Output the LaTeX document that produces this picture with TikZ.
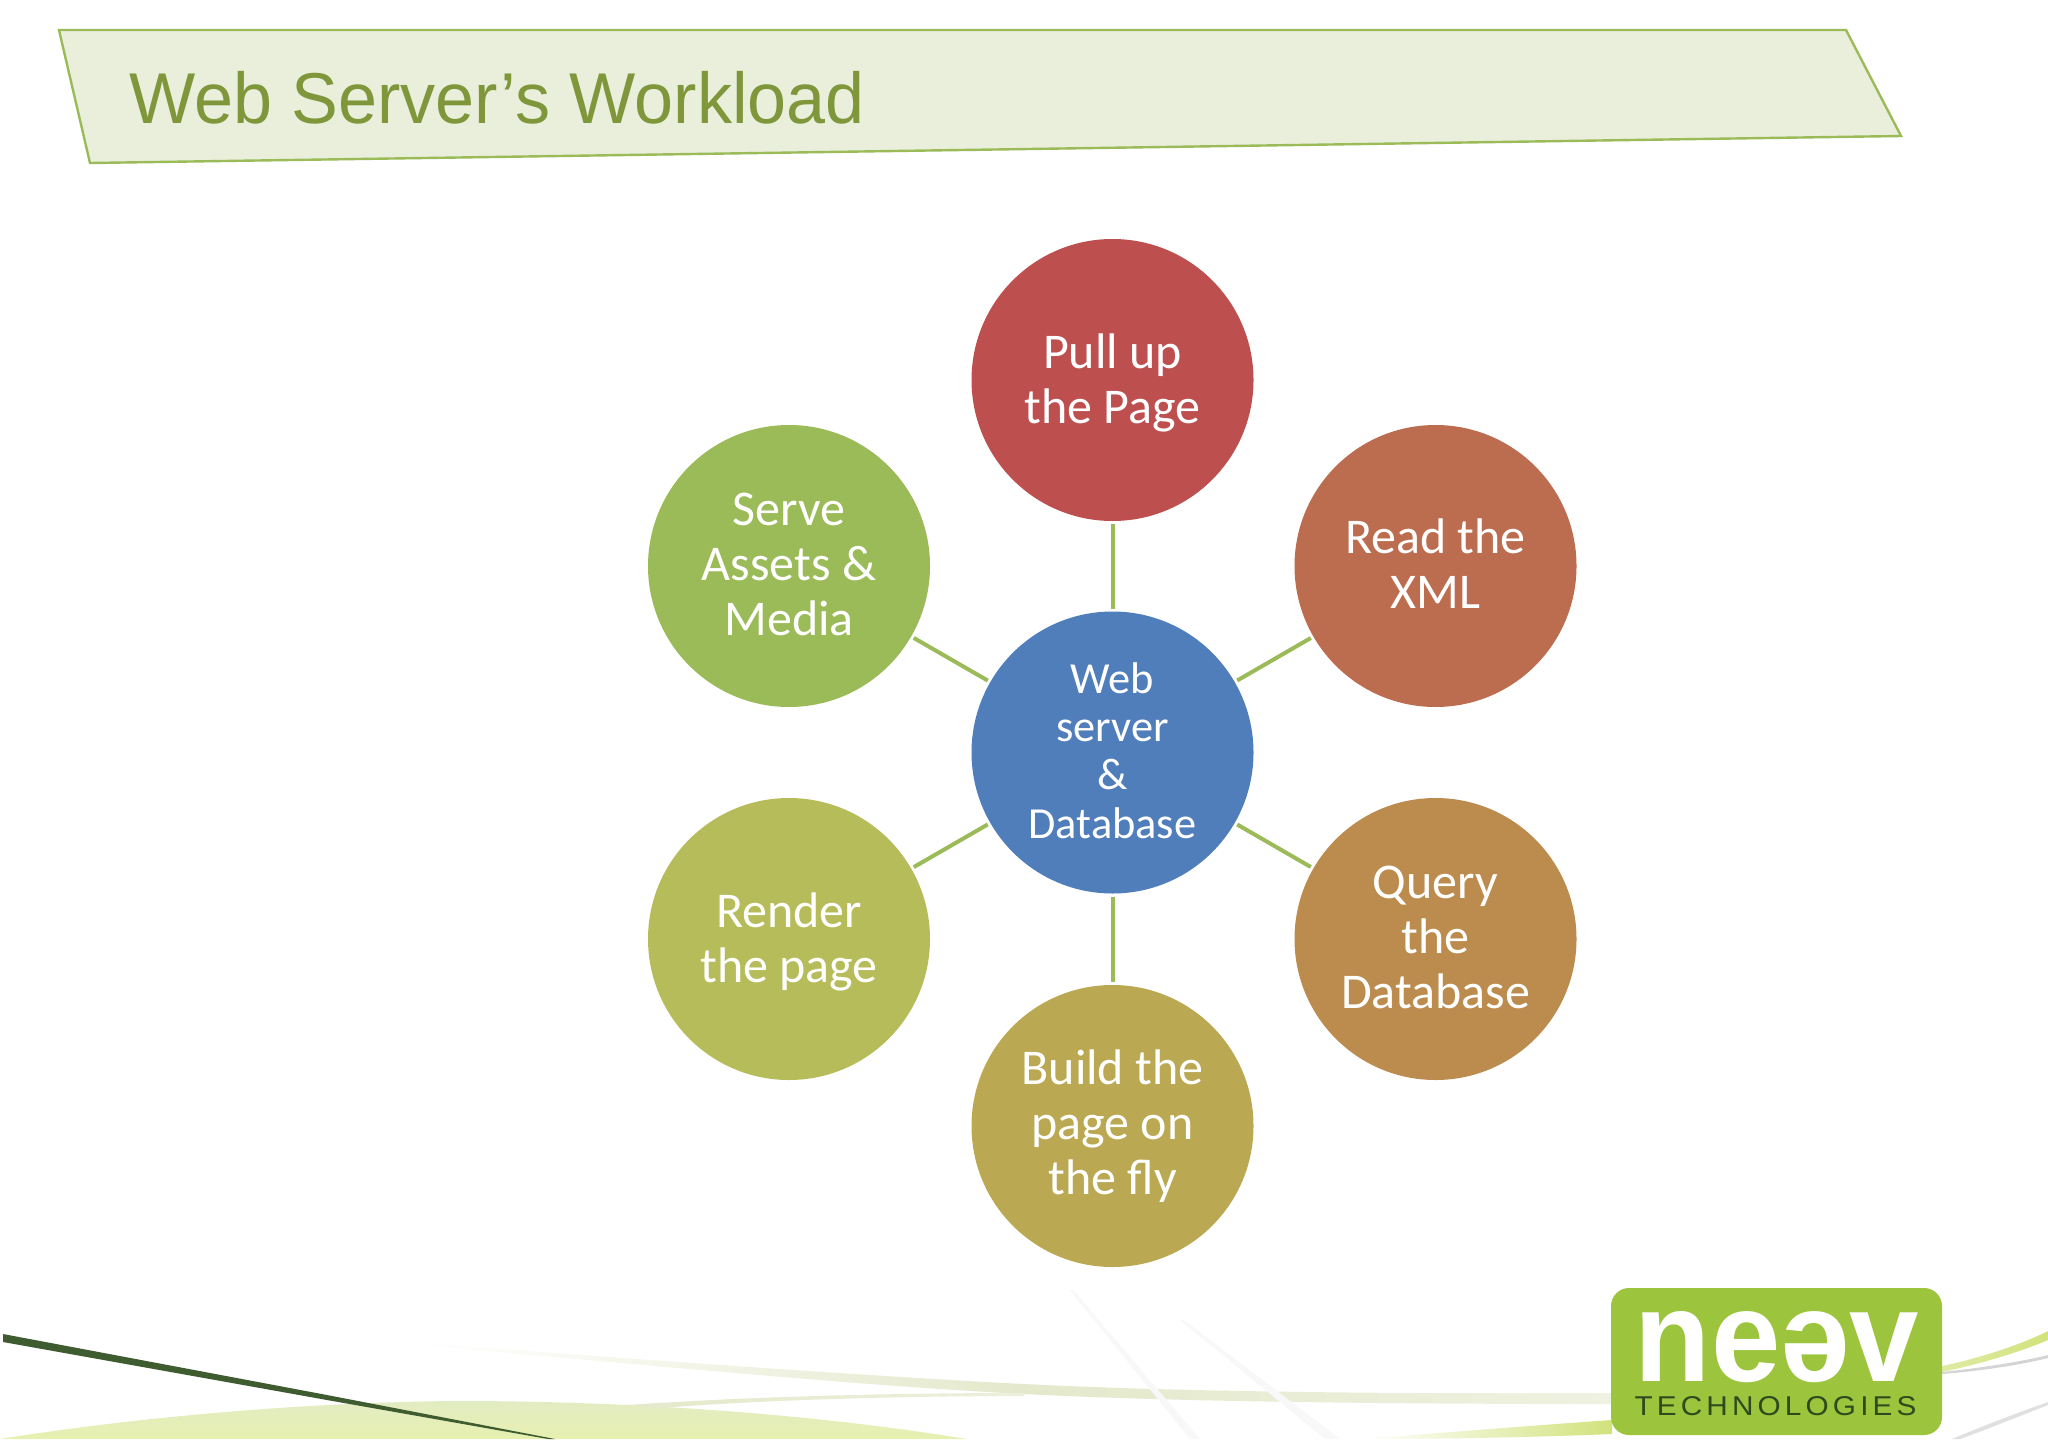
\documentclass[tikz,border=0pt]{standalone}
\usepackage{fontspec}
\usepackage{graphicx}
\setmainfont{Carlito}
\newfontfamily\titlefont{Liberation Sans}
\newfontfamily\logofont{Liberation Sans}
\newfontfamily\logospaced{Liberation Sans}[LetterSpace=14]
\definecolor{bandfill}{HTML}{EAEFDC}
\definecolor{accent}{HTML}{9BBB59}
\definecolor{titlecol}{HTML}{7F963B}
\definecolor{cCenter}{HTML}{4F7EBB}
\definecolor{cA}{HTML}{BE4F4F}
\definecolor{cB}{HTML}{BC6D4F}
\definecolor{cC}{HTML}{BC8C4F}
\definecolor{cD}{HTML}{BBA852}
\definecolor{cE}{HTML}{B6BC5A}
\definecolor{cF}{HTML}{9BBB59}
\definecolor{logogreen}{HTML}{9CC43C}
\definecolor{logodark}{HTML}{2F4A1E}
\definecolor{swoosh}{HTML}{3F5C30}
\definecolor{hilltop}{HTML}{E2ECC2}
\definecolor{hillbot}{HTML}{E7F0B0}
\definecolor{streak}{HTML}{E4E9CC}
\definecolor{ylw}{HTML}{D2E27C}
\definecolor{faint}{HTML}{F8F8F8}
\tikzset{
  bubble/.style={circle,minimum size=141pt,inner sep=0pt,outer sep=0pt},
  btext/.style={inner sep=0pt,outer sep=0pt,text=white,align=center,font=\fontsize{25}{27.5}\selectfont},
  htext/.style={btext,font=\fontsize{22.2}{24.1}\selectfont},
  link/.style={draw=accent,line width=2pt,shorten <=1.5pt,shorten >=1.5pt},
  logotxt/.style={inner sep=0pt,outer sep=0pt,anchor=center}
}
\begin{document}
\begin{tikzpicture}[x=0.5pt,y=-0.5pt]
\useasboundingbox (0,0) rectangle (2048,1439);
\fill[white] (0,0) rectangle (2048,1439);
% decorative background
\shade[top color=hilltop,bottom color=hillbot] (0,1439) .. controls (150,1415) and (320,1402) .. (457,1401) .. controls (640,1401) and (820,1415) .. (967,1439) -- cycle;
\shade[left color=white,right color=streak] (418,1343) .. controls (650,1360) and (850,1375) .. (1024,1384) -- (1024,1394) .. controls (850,1385) and (650,1365) .. (418,1345) -- cycle;
\shade[left color=streak,right color=streak!60] (1024,1384) .. controls (1180,1392) and (1400,1394) .. (1612,1393) -- (1612,1404) .. controls (1400,1404) and (1180,1402) .. (1024,1394) -- cycle;
\shade[left color=streak,right color=streak!70] (627,1405) .. controls (760,1396) and (900,1393) .. (1024,1393) -- (1024,1396) .. controls (900,1396) and (760,1400) .. (660,1408) -- cycle;
\fill[faint] (1070,1290) -- (1073,1290) -- (1200,1439) -- (1190,1439) -- cycle;
\fill[faint] (1180,1320) -- (1184,1320) -- (1340,1439) -- (1325,1439) -- cycle;
\shade[left color=white,right color=ylw] (1364,1439) .. controls (1450,1432) and (1540,1425) .. (1612,1420) -- (1612,1434) .. controls (1540,1437) and (1450,1439) .. (1364,1439) -- cycle;
\shade[left color=ylw!70,right color=ylw] (1942,1366) .. controls (1980,1358) and (2020,1345) .. (2048,1331) -- (2048,1340) .. controls (2020,1352) and (1980,1364) .. (1942,1372) -- cycle;
\fill[faint!70!gray] (1942,1372) .. controls (1980,1368) and (2020,1362) .. (2048,1355) -- (2048,1358) .. controls (2020,1365) and (1980,1371) .. (1942,1374) -- cycle;
\fill[faint!80!gray] (1952,1439) .. controls (1985,1425) and (2020,1412) .. (2048,1402) -- (2048,1405) .. controls (2020,1416) and (1985,1430) .. (1960,1439) -- cycle;
\fill[swoosh] (3,1334) -- (327,1395) -- (555,1439) -- (548,1439) -- (327,1400) -- (3,1342) -- cycle;
% title band
\fill[bandfill,draw=accent,line width=1.2pt] (59,30) -- (1846,30) -- (1901,136) -- (90,163) -- cycle;
\node[anchor=base west,inner sep=0pt,text=titlecol,font=\titlefont\fontsize{36}{40}\selectfont] (title) at (129,124) {\scalebox{0.974}[1]{Web Server’s Workload}};
% bubbles
\node[bubble,fill=cCenter,label={[htext,yshift=1pt]center:{Web\\server\\\&\\Database}}] (hubnode) at (1112.5,752.5) {};
\node[bubble,fill=cA,label={[btext,yshift=-1.3pt]center:{Pull up\\the Page}}] (pull) at (1112.5,380) {};
\node[bubble,fill=cB,label={[btext,yshift=1.3pt]center:{Read the\\XML}}] (read) at (1435.5,566) {};
\node[bubble,fill=cC,label={[btext,yshift=0.65pt]center:{Query\\the\\Database}}] (query) at (1435.5,939) {};
\node[bubble,fill=cD,label={[btext]center:{Build the\\page on\\the fly}}] (build) at (1112.5,1126) {};
\node[bubble,fill=cE,label={[btext,yshift=-1.3pt]center:{Render\\the page}}] (render) at (789,939) {};
\node[bubble,fill=cF,label={[btext,yshift=0.65pt]center:{Serve\\Assets \&\\Media}}] (serve) at (789,566) {};
% connectors
\draw[link] (hubnode) -- (pull);
\draw[link] (hubnode) -- (read);
\draw[link] (hubnode) -- (query);
\draw[link] (hubnode) -- (build);
\draw[link] (hubnode) -- (render);
\draw[link] (hubnode) -- (serve);
% logo
\node[fill=logogreen,rounded corners=9pt,minimum width=165.5pt,minimum height=73.5pt,inner sep=0pt] (logo) at (1776.5,1361.5) {};
\node[logotxt,text=white] (neev) at (1777,1347) {\resizebox{142pt}{35pt}{\logofont\bfseries neəv}};
\node[logotxt,text=logodark] (tech) at (1775.5,1406) {\resizebox{141pt}{9.5pt}{\logospaced TECHNOLOGIES}};
\end{tikzpicture}
\end{document}
